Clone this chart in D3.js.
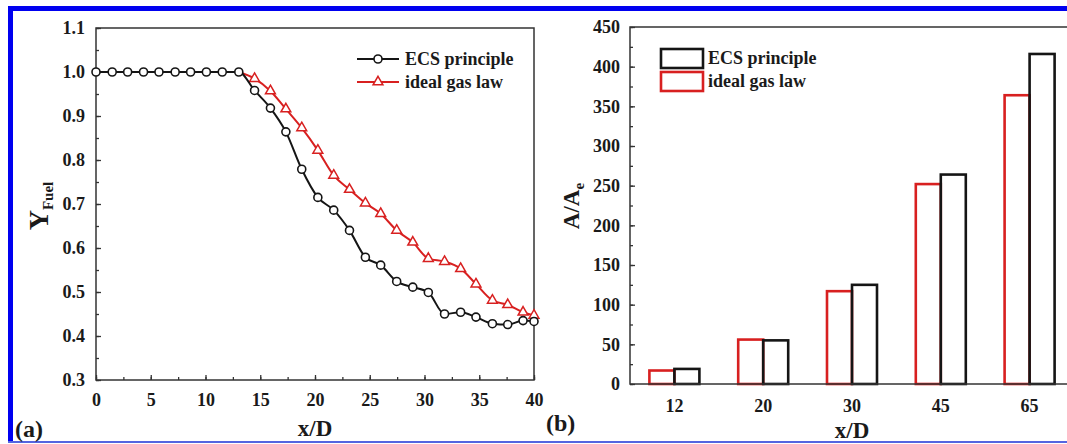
<!DOCTYPE html>
<html>
<head lang="en">
  <meta charset="UTF-8">
  <title>Y_Fuel and A/Ae versus x/D</title>
</head>
<style>
  body { margin: 0; background: #fff; }
  svg text { font-family: "Liberation Serif", "Times New Roman", serif; font-weight: bold; fill: #1a1a1a; }
  .axis path.domain { display: none; }
  .axis line { stroke: #333; stroke-width: 1.3; }
</style>
<body>

<svg id="chart" width="1067" height="444"></svg>

<script src="https://cdn.jsdelivr.net/npm/d3@7"></script>
<script>
  // Panel (a): fuel mass fraction along the jet axis
  var xD = [0, 1.48, 2.89, 4.34, 5.75, 7.23, 8.64, 10.08, 11.53, 13.04, 14.48, 15.93, 17.34, 18.79,
            20.26, 21.71, 23.15, 24.6, 26.0, 27.46, 28.93, 30.35, 31.83, 33.3, 34.7, 36.2, 37.6, 39.0, 40];
  var ecsY = [1, 1, 1, 1, 1, 1, 1, 1, 1, 1, 0.958, 0.918, 0.864, 0.779,
              0.715, 0.686, 0.640, 0.579, 0.561, 0.524, 0.511, 0.499, 0.450, 0.454, 0.443, 0.428, 0.426, 0.435, 0.433];
  var idealY = [1, 1, 1, 1, 1, 1, 1, 1, 1, 1, 0.985, 0.957, 0.916, 0.873,
                0.822, 0.765, 0.733, 0.702, 0.678, 0.640, 0.613, 0.576, 0.569, 0.553, 0.518, 0.481, 0.471, 0.454, 0.447];
  var yTicksA = [0.3, 0.4, 0.5, 0.6, 0.7, 0.8, 0.9, 1.0, 1.1];

  // Panel (b): area ratio at stations
  var stations = ['12', '20', '30', '45', '65'];
  var ecsArea = [19, 55, 125, 264, 416];
  var idealArea = [17, 56, 117, 252, 364];
  var yTicksB = [0, 50, 100, 150, 200, 250, 300, 350, 400, 450];

  var black = '#151515';
  var red = '#d82020';

  var svg = d3.select('#chart');

  // blue frame of the picture
  svg.append('rect').attr('x', 8).attr('y', 6).attr('width', 1059).attr('height', 5).attr('fill', '#0000f0');
  svg.append('rect').attr('x', 8).attr('y', 6).attr('width', 5).attr('height', 437).attr('fill', '#0000f0');
  svg.append('rect').attr('x', 8).attr('y', 441).attr('width', 1059).attr('height', 2).attr('fill', '#5565e0');

  // ---------- panel (a) ----------
  var ax = d3.scaleLinear().domain([0, 40]).range([96, 534]);
  var ay = d3.scaleLinear().domain([0.3, 1.1]).range([380, 28]);

  var ga = svg.append('g');

  ga.append('g').attr('class', 'axis').attr('transform', 'translate(0,380)')
    .call(d3.axisBottom(ax).tickValues(d3.range(0, 40.1, 2.5)).tickSize(-3).tickFormat(''));
  ga.append('g').attr('class', 'axis').attr('transform', 'translate(0,380)')
    .call(d3.axisBottom(ax).tickValues(d3.range(0, 40.1, 5)).tickSize(-5).tickPadding(13).tickFormat(d3.format('d')))
    .selectAll('text').style('font-size', '18px');
  ga.append('g').attr('class', 'axis').attr('transform', 'translate(96,0)')
    .call(d3.axisLeft(ay).tickValues(d3.range(0.3, 1.101, 0.05)).tickSize(-3).tickFormat(''));
  ga.append('g').attr('class', 'axis').attr('transform', 'translate(96,0)')
    .call(d3.axisLeft(ay).tickValues(yTicksA).tickSize(-5).tickPadding(11).tickFormat(d3.format('.1f')))
    .selectAll('text').style('font-size', '18px');

  ga.append('rect').attr('x', 96).attr('y', 28).attr('width', 438).attr('height', 352)
    .attr('fill', 'none').attr('stroke', '#333').attr('stroke-width', 1.5);

  var ecsPts = xD.map(function(x, i) { return { x: x, y: ecsY[i] }; });
  var idealPts = xD.map(function(x, i) { return { x: x, y: idealY[i], hidden: idealY[i] === ecsY[i] }; });

  var line = d3.line().x(function(d) { return ax(d.x); }).y(function(d) { return ay(d.y); })
    .curve(d3.curveMonotoneX);

  ga.append('path').datum(idealPts.filter(function(d, i) { return i >= 9; }))
    .attr('d', line).attr('fill', 'none').attr('stroke', red).attr('stroke-width', 2);
  ga.selectAll('.tri').data(idealPts.filter(function(d) { return !d.hidden; }))
    .enter().append('path').attr('class', 'tri')
    .attr('d', d3.symbol(d3.symbolTriangle, 42))
    .attr('transform', function(d) { return 'translate(' + ax(d.x) + ',' + ay(d.y) + ')'; })
    .attr('fill', '#fff').attr('stroke', red).attr('stroke-width', 1.5);

  ga.append('path').datum(ecsPts)
    .attr('d', line).attr('fill', 'none').attr('stroke', black).attr('stroke-width', 2);
  ga.selectAll('.dot').data(ecsPts)
    .enter().append('circle').attr('class', 'dot')
    .attr('cx', function(d) { return ax(d.x); }).attr('cy', function(d) { return ay(d.y); })
    .attr('r', 4).attr('fill', '#fff').attr('stroke', black).attr('stroke-width', 1.6);

  // legend (a)
  var la = ga.append('g');
  la.append('line').attr('x1', 357).attr('x2', 399).attr('y1', 59).attr('y2', 59).attr('stroke', black).attr('stroke-width', 2);
  la.append('circle').attr('cx', 378).attr('cy', 59).attr('r', 4).attr('fill', '#fff').attr('stroke', black).attr('stroke-width', 1.6);
  la.append('text').attr('x', 405).attr('y', 65).style('font-size', '18px').text('ECS principle');
  la.append('line').attr('x1', 357).attr('x2', 399).attr('y1', 82).attr('y2', 82).attr('stroke', red).attr('stroke-width', 2);
  la.append('path').attr('d', d3.symbol(d3.symbolTriangle, 42)).attr('transform', 'translate(378,82)')
    .attr('fill', '#fff').attr('stroke', red).attr('stroke-width', 1.5);
  la.append('text').attr('x', 405).attr('y', 88).style('font-size', '18px').text('ideal gas law');

  ga.append('text').attr('x', 315).attr('y', 436).attr('text-anchor', 'middle').style('font-size', '23px').text('x/D');
  var yl = ga.append('text').attr('transform', 'translate(48,206) rotate(-90)').attr('text-anchor', 'middle');
  yl.append('tspan').style('font-size', '28px').text('Y');
  yl.append('tspan').attr('dy', 5).style('font-size', '15px').text('Fuel');
  ga.append('text').attr('x', 15).attr('y', 437).style('font-size', '24px').text('(a)');

  // ---------- panel (b) ----------
  var bx = d3.scaleBand().domain(stations).range([630, 1074]);
  var by = d3.scaleLinear().domain([0, 450]).range([384, 27]);
  var barW = 25;

  var gb = svg.append('g');

  gb.append('g').attr('class', 'axis').attr('transform', 'translate(630,0)')
    .call(d3.axisLeft(by).tickValues(d3.range(0, 451, 25)).tickSize(-3).tickFormat(''));
  gb.append('g').attr('class', 'axis').attr('transform', 'translate(630,0)')
    .call(d3.axisLeft(by).tickValues(yTicksB).tickSize(-5).tickPadding(10))
    .selectAll('text').style('font-size', '18px');
  gb.append('g').attr('class', 'axis').attr('transform', 'translate(0,384)')
    .call(d3.axisBottom(bx).tickSize(0).tickPadding(15))
    .selectAll('text').style('font-size', '18px');

  var groups = gb.selectAll('.grp').data(stations).enter().append('g').attr('class', 'grp');
  groups.append('rect')
    .attr('x', function(d) { return bx(d) + bx.bandwidth() / 2 - barW; })
    .attr('y', function(d, i) { return by(idealArea[i]); })
    .attr('width', barW)
    .attr('height', function(d, i) { return by(0) - by(idealArea[i]); })
    .attr('fill', 'none').attr('stroke', red).attr('stroke-width', 2.6);
  groups.append('rect')
    .attr('x', function(d) { return bx(d) + bx.bandwidth() / 2; })
    .attr('y', function(d, i) { return by(ecsArea[i]); })
    .attr('width', barW)
    .attr('height', function(d, i) { return by(0) - by(ecsArea[i]); })
    .attr('fill', 'none').attr('stroke', black).attr('stroke-width', 2.6);

  gb.append('rect').attr('x', 630).attr('y', 27).attr('width', 444).attr('height', 357)
    .attr('fill', 'none').attr('stroke', '#333').attr('stroke-width', 1.5);

  // legend (b)
  var lb = gb.append('g');
  lb.append('rect').attr('x', 661).attr('y', 49).attr('width', 42).attr('height', 19)
    .attr('fill', 'none').attr('stroke', black).attr('stroke-width', 2.6);
  lb.append('rect').attr('x', 661).attr('y', 72).attr('width', 42).attr('height', 19)
    .attr('fill', 'none').attr('stroke', red).attr('stroke-width', 2.6);
  lb.append('text').attr('x', 708).attr('y', 64).style('font-size', '18px').text('ECS principle');
  lb.append('text').attr('x', 708).attr('y', 87).style('font-size', '18px').text('ideal gas law');

  gb.append('text').attr('x', 852).attr('y', 438).attr('text-anchor', 'middle').style('font-size', '23px').text('x/D');
  var bl = gb.append('text').attr('transform', 'translate(579,206) rotate(-90)').attr('text-anchor', 'middle');
  bl.append('tspan').style('font-size', '23px').text('A/A');
  bl.append('tspan').attr('dy', 5).style('font-size', '15px').text('e');
  gb.append('text').attr('x', 546).attr('y', 431).style('font-size', '24px').text('(b)');
</script>
</body>
</html>
